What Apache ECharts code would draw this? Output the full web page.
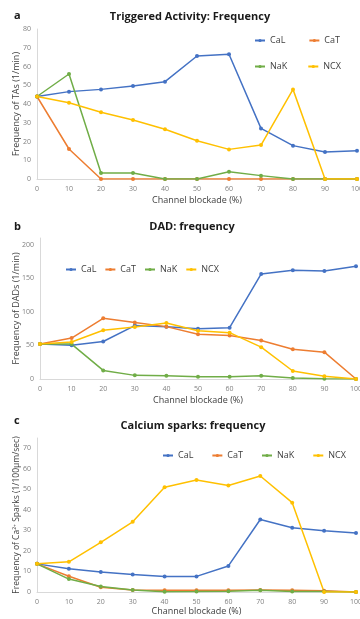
<!DOCTYPE html>
<html>
<head>
<meta charset="utf-8">
<script src="https://cdn.jsdelivr.net/npm/echarts@6/dist/echarts.min.js"></script>
<style>
  html, body { margin: 0; padding: 0; background: #fff; }
  #main { width: 360px; height: 619px; }
</style>
</head>
<body>
<div id="main"></div>
<script>
const blockade = [0, 10, 20, 30, 40, 50, 60, 70, 80, 90, 100];

// a: triggered activity frequency (1/min)
const taCaL = [44, 46.6, 47.8, 49.6, 51.9, 65.6, 66.5, 27, 17.8, 14.4, 15.1];
const taCaT = [44, 16, 0, 0, 0, 0, 0, 0, 0, 0, 0];
const taNaK = [44, 56, 3.2, 3.2, 0, 0, 3.9, 1.8, 0, 0, 0];
const taNCX = [44, 40.7, 35.6, 31.5, 26.5, 20.4, 15.8, 18.1, 47.8, 0, 0];

// b: DAD frequency (1/min)
const dadCaL = [52, 50.4, 55.8, 79.5, 78, 75, 76.5, 156.5, 162, 161, 168];
const dadCaT = [52, 61, 90.4, 84, 78, 66.7, 64.7, 57.3, 44.4, 40, 0];
const dadNaK = [52, 52, 12.8, 5.4, 5, 3.5, 3.5, 5, 1.5, 0.5, 0];
const dadNCX = [52, 55, 72.6, 77.5, 83.5, 72, 69, 47.4, 11.9, 4, 0];

// c: calcium sparks frequency (1/100um/sec)
const spCaL = [13.7, 11.3, 9.7, 8.5, 7.6, 7.6, 12.7, 35.3, 31.3, 29.8, 28.7];
const spCaT = [13.7, 7.7, 2.3, 1, 0.8, 0.9, 0.8, 1, 0.8, 0.6, 0];
const spNaK = [13.7, 6.3, 2.7, 1, 0.1, 0.2, 0.4, 0.8, 0.2, 0.2, 0];
const spNCX = [13.7, 14.7, 24.2, 34.2, 51, 54.5, 51.9, 56.5, 43.5, 0, 0];

const names = ['CaL', 'CaT', 'NaK', 'NCX'];
const colors = ['#4472C4', '#ED7D31', '#70AD47', '#FFC000'];
const FONT = 'Open Sans';

const pairs = vals => blockade.map((x, i) => [x, vals[i]]);

const mkSeries = (sets, idx) => sets.map((vals, i) => ({
    name: names[i],
    type: 'line',
    xAxisIndex: idx,
    yAxisIndex: idx,
    data: pairs(vals),
    symbol: 'circle',
    symbolSize: 4,
    itemStyle: { color: colors[i] },
    lineStyle: { color: colors[i], width: 1.5 },
    animation: false
}));

const xAx = (idx, gap) => ({
    gridIndex: idx,
    type: 'value',
    min: 0,
    max: 100,
    interval: 10,
    name: 'Channel blockade (%)',
    nameLocation: 'middle',
    nameGap: gap,
    nameMoveOverlap: false,
    nameTextStyle: { fontFamily: FONT, fontSize: 9, color: '#404040' },
    axisLine: { lineStyle: { color: '#d9d9d9' } },
    axisTick: { show: false },
    splitLine: { show: false },
    axisLabel: { fontFamily: FONT, fontSize: 7, color: '#808080', margin: 6 }
});

const yAx = (idx, name, max, interval, gap, size) => ({
    gridIndex: idx,
    type: 'value',
    min: 0,
    max: max,
    interval: interval,
    name: name,
    nameLocation: 'middle',
    nameGap: gap,
    nameMoveOverlap: false,
    nameTextStyle: { fontFamily: FONT, fontSize: size, color: '#404040' },
    axisLine: { show: true, lineStyle: { color: '#d9d9d9' } },
    axisTick: { show: false },
    splitLine: { show: false },
    axisLabel: { fontFamily: FONT, fontSize: 7, color: '#808080', margin: 6, showMaxLabel: max % interval === 0 }
});

const titleStyle = { fontFamily: FONT, fontSize: 11, fontWeight: 'bold', color: '#1a1a1a' };
const legendText = { fontFamily: FONT, fontSize: 9, color: '#404040' };
const legendBase = { itemWidth: 10, itemHeight: 4, padding: 0, textStyle: legendText, itemStyle: { borderWidth: 0 } };

const chart = echarts.init(document.getElementById('main'));
chart.setOption({
    backgroundColor: '#fff',
    title: [
        { text: 'a', left: 9, top: 5, textStyle: titleStyle },
        { text: 'Triggered Activity: Frequency', left: 185, top: 6, textAlign: 'center', textStyle: titleStyle },
        { text: 'b', left: 9, top: 216, textStyle: titleStyle },
        { text: 'DAD: frequency', left: 187, top: 216, textAlign: 'center', textStyle: titleStyle },
        { text: 'c', left: 9, top: 410, textStyle: titleStyle },
        { text: 'Calcium sparks: frequency', left: 188, top: 415, textAlign: 'center', textStyle: titleStyle }
    ],
    legend: [
        Object.assign({ data: ['CaL', 'CaT'], left: 254, top: 36, itemGap: 23 }, legendBase),
        Object.assign({ data: ['NaK', 'NCX'], left: 254, top: 62, itemGap: 20 }, legendBase),
        Object.assign({ data: names, left: 65, top: 265, itemGap: 8 }, legendBase),
        Object.assign({ data: names, left: 162, top: 451, itemGap: 18 }, legendBase)
    ],
    grid: [
        { left: 37, right: 3, top: 29, height: 150, outerBoundsMode: 'none' },
        { left: 40, right: 4, top: 238, height: 141, outerBoundsMode: 'none' },
        { left: 37, right: 4, top: 438, height: 154, outerBoundsMode: 'none' }
    ],
    xAxis: [xAx(0, 17), xAx(1, 17), xAx(2, 15)],
    yAxis: [
        yAx(0, 'Frequency of TAs (1/min)', 80, 10, 16, 9),
        yAx(1, 'Frequency of DADs (1/min)', 210, 50, 19, 9),
        yAx(2, 'Frequency of Ca²⁺ Sparks (1/100µm/sec)', 75, 10, 16, 8.5)
    ],
    series: [].concat(
        mkSeries([taCaL, taCaT, taNaK, taNCX], 0),
        mkSeries([dadCaL, dadCaT, dadNaK, dadNCX], 1),
        mkSeries([spCaL, spCaT, spNaK, spNCX], 2)
    )
});
</script>
</body>
</html>
